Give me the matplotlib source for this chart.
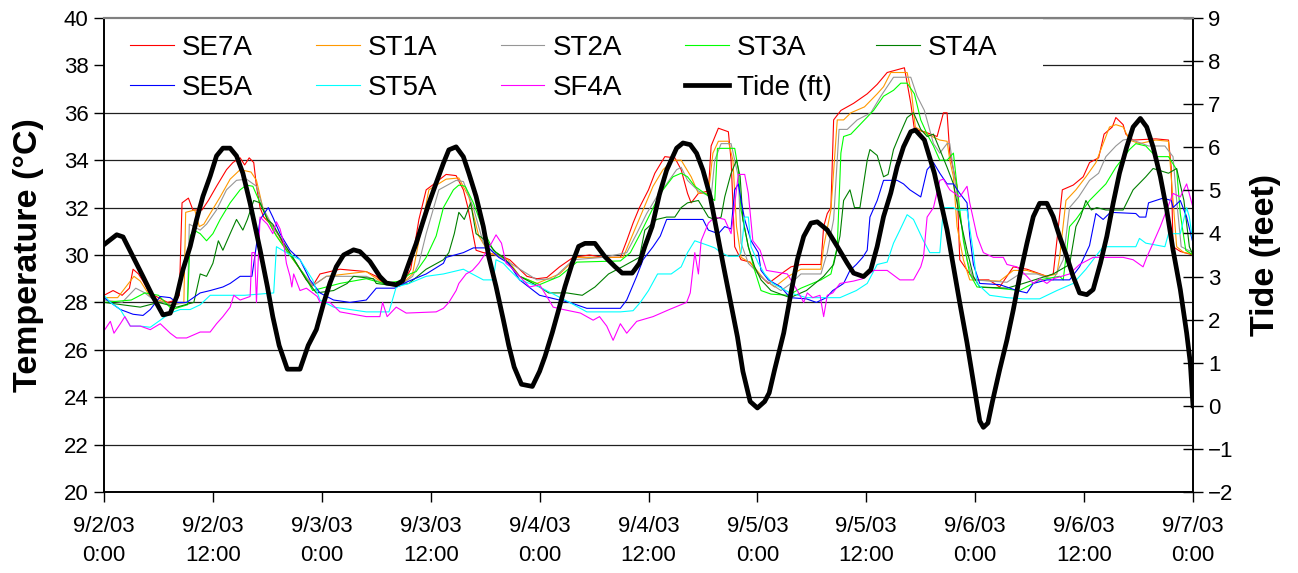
import matplotlib
matplotlib.use("Agg")
import matplotlib.pyplot as plt
from matplotlib.patches import Rectangle

plt.rcParams['font.family'] = ['Liberation Sans', 'DejaVu Sans']

# hours after 9/2/03 0:00, temperature in deg C
se7a_hr = [0, 1, 2, 2.8, 3.2, 3.8, 4.3, 5, 6, 7, 8, 8.3, 8.6, 9.3, 9.8, 10.8, 11.5, 12.4, 13.5, 14.2, 15, 15.5, 16, 16.5,
           16.8, 17.2, 17.6, 18.6, 19.3, 20.1, 21.2, 22.3, 23, 23.8, 26, 28.9, 30, 30.8, 32.6, 33.2, 33.8, 34.7, 35.5,
           36.2, 37.7, 38.8, 39.6, 40.1, 40.7, 41, 41.8, 43.5, 44.7, 46.6, 47.7, 48.8, 50.2, 51.7, 53.5, 55, 56.9, 57.6,
           58.3, 59, 60, 60.7, 61.8, 62.9, 63.6, 64.3, 64.7, 65.5, 66.6, 66.9, 67.7, 68.8, 69.1, 69.5, 70.2, 71.2, 72.1,
           73.2, 74.6, 75.7, 76.8, 79, 79.3, 79.7, 80.1, 80.4, 81.2, 82.6, 84.1, 85.2, 86.3, 88.2, 88.9, 89.3, 90.4, 91.8,
           92.5, 92.9, 93.2, 94, 94.3, 95.4, 96, 97.5, 98.7, 99.5, 100.2, 101.7, 103.9, 104.6, 105, 105.6, 106.8, 107.9,
           108.6, 109.6, 110.2, 111.1, 111.5, 112.3, 112.6, 113.4, 115.9, 117.3, 117.6, 117.8, 118.6, 120]
se7a_c = [28.3, 28.5, 28.3, 28.6, 29.4, 29.2, 28.9, 28.4, 28.2, 28.0, 28.1, 28.3, 32.2, 32.4, 31.9, 31.9, 32.3, 32.9, 33.6,
          33.9, 34.1, 33.8, 34.1, 33.9, 32.9, 32.0, 31.6, 31.2, 30.8, 30.2, 29.65, 28.95, 28.7, 29.2, 29.4, 29.3, 29.1,
          28.8, 28.7, 29.0, 29.4, 31.5, 32.75, 32.95, 33.4, 33.35, 32.75, 32.0, 30.8, 30.2, 30.1, 30.0, 29.8, 29.1, 29.0,
          29.05, 29.5, 29.9, 30.0, 29.9, 29.9, 30.6, 31.35, 32.0, 32.75, 33.45, 34.15, 34.1, 33.6, 32.6, 32.2, 32.6,
          32.7, 34.6, 35.35, 35.2, 34.0, 30.35, 29.8, 29.7, 29.2, 28.8, 29.2, 29.5, 29.6, 29.6, 31.2, 31.75, 32.0, 35.7,
          36.1, 36.4, 36.8, 37.2, 37.7, 37.9, 36.4, 35.3, 35.2, 35.0, 36.0, 36.0, 34.3, 32.9, 29.8, 29.2, 28.95, 28.95,
          28.65, 29.1, 29.5, 29.4, 29.1, 29.2, 30.6, 32.75, 32.95, 33.3, 33.9, 34.1, 35.1, 35.4, 35.8, 35.5, 35.1,
          34.85, 34.9, 34.85, 33.7, 30.35, 30.15, 30.0]

st1a_hr = [0, 1.5, 3.3, 4, 5, 6, 7.5, 8.8, 9.0, 10.0, 10.5, 11.0, 11.7, 12.8, 13.9, 15, 16.2, 16.8, 17.5, 18.6, 20.1,
           21.6, 23, 24.5, 28.9, 30.8, 32.6, 34, 34.7, 35.8, 37.7, 39.1, 40.2, 41.3, 42.4, 44.5, 45.8, 47.7, 50.2, 52.1,
           57.2, 58.3, 59.4, 60.5, 61.6, 62.7, 63.6, 64.7, 65.5, 66.6, 67.1, 67.7, 68.8, 69.3, 69.7, 70.2, 71.3, 72.8,
           73.9, 75.4, 76.8, 79, 79.3, 80.1, 80.8, 81.5, 82.3, 83.8, 85.2, 85.9, 86.7, 88.5, 89, 89.4, 90.7, 92.1, 92.9,
           93.2, 93.6, 94.0, 94.7, 95.4, 98.7, 100.2, 101.7, 103.9, 105, 105.3, 106, 107.1, 108.2, 109.3, 110.1, 110.8,
           111.5, 112.3, 113, 114.1, 115.9, 117.3, 117.8, 118.2, 119, 120]
st1a_c = [28.2, 28.2, 29.1, 28.9, 28.3, 28.1, 27.9, 28.0, 31.8, 31.9, 31.2, 31.3, 31.75, 32.45, 33.2, 33.6, 33.5, 33.15,
          32.0, 31.05, 30.2, 29.4, 28.7, 29.1, 29.3, 28.8, 28.7, 29.2, 30.6, 32.75, 33.2, 33.25, 32.45, 30.8, 30.1, 29.8,
          29.1, 28.8, 29.2, 29.9, 29.9, 30.9, 31.9, 32.9, 33.6, 34.0, 34.0, 33.3, 32.6, 32.6, 34.3, 34.8, 34.8, 34.0,
          31.2, 29.9, 29.65, 28.95, 28.65, 29.1, 29.4, 29.4, 30.35, 31.9, 35.7, 35.7, 36.0, 36.25, 36.8, 37.1, 37.7,
          37.7, 36.8, 35.4, 35.1, 34.85, 34.8, 34.0, 33.3, 31.2, 29.8, 28.95, 28.9, 29.35, 29.35, 29.1, 29.2, 29.9,
          32.3, 32.75, 33.3, 33.9, 34.7, 35.4, 35.5, 35.4, 34.85, 34.7, 34.85, 34.8, 32.3, 30.35, 30.1, 30.05]

st2a_hr = [0, 2, 3.5, 4.5, 5.5, 7.5, 9.2, 9.4, 9.9, 10.6, 11.3, 12.4, 13.5, 14.6, 15.7, 16.8, 17.5, 18.6, 20.1, 21.6, 23,
           24.5, 28.9, 30.8, 32.6, 34, 34.7, 35.5, 36.9, 38.8, 39.6, 40.7, 41.8, 42.9, 45, 47.7, 49.5, 51.7, 55, 57.6,
           58.7, 59.8, 60.9, 62, 63.1, 63.6, 64.3, 65.5, 66.9, 67.3, 68, 69.1, 69.9, 70.2, 71, 72.8, 74.6, 75.7, 76.8,
           79, 79.7, 80.4, 81, 81.9, 83, 84.5, 85.6, 86.3, 87, 88.9, 89.6, 90.4, 91.4, 92.1, 92.9, 93.2, 93.6, 94.3,
           95.1, 95.8, 99.5, 100.9, 102.8, 104.6, 105.7, 106.4, 107.4, 108.6, 109.6, 110.4, 111.5, 112.3, 113, 115.1,
           116.9, 117.8, 118.2, 118.7, 120]
st2a_c = [28.1, 28.0, 28.6, 28.4, 28.1, 27.9, 28.0, 31.3, 31.2, 31.05, 31.3, 31.9, 32.75, 33.15, 33.2, 32.9, 32.0, 31.2,
          30.35, 29.4, 28.7, 29.1, 29.1, 28.8, 28.7, 29.1, 29.65, 30.9, 32.75, 33.15, 33.1, 32.0, 30.5, 30.1, 29.6,
          28.95, 29.0, 29.8, 29.9, 30.1, 30.9, 31.75, 32.45, 33.0, 33.6, 33.7, 33.15, 32.7, 32.45, 34.0, 34.7, 34.7,
          33.3, 30.5, 29.65, 28.95, 28.5, 28.8, 29.2, 29.2, 30.1, 31.5, 35.3, 35.3, 35.7, 36.0, 36.7, 37.1, 37.5, 37.5,
          36.7, 36.1, 34.7, 34.3, 34.7, 34.7, 33.6, 31.75, 29.8, 28.95, 28.85, 29.2, 29.2, 28.95, 29.8, 32.0, 32.45,
          33.15, 33.45, 34.15, 34.6, 34.85, 34.9, 34.6, 34.6, 34.15, 32.3, 30.35, 30.1]

st3a_hr = [0, 3, 4.5, 6, 7.5, 9.2, 9.5, 9.9, 10.6, 11.3, 12, 12.8, 13.9, 15, 15.7, 16.4, 17.2, 18, 19, 20.1, 22, 23,
           24.5, 26, 28.9, 30.8, 32.6, 33.7, 34.4, 35.5, 36.6, 37.4, 38.5, 39.1, 39.8, 40.7, 41.8, 42.9, 44, 45.8, 48,
           50.2, 52.1, 56.9, 58, 59.1, 60.2, 61.3, 62.7, 63.6, 64.3, 65.1, 66.2, 67.3, 67.6, 69.5, 69.9, 70.2, 71, 71.7,
           72.4, 73.5, 75.4, 76.8, 79, 80.1, 80.8, 81.2, 81.5, 82.3, 83.8, 84.8, 85.9, 87, 87.8, 88.5, 89.3, 90, 90.7,
           91.4, 92.1, 92.9, 93.6, 94, 94.7, 95.4, 96.2, 98.5, 100.9, 103.1, 105.3, 105.7, 106.4, 107.1, 108.6, 110.4,
           111.5, 113, 113.7, 114.8, 115.9, 117.3, 118.2, 118.6, 119.2, 120]
st3a_c = [28.0, 28.1, 28.4, 28.3, 27.7, 27.9, 30.8, 31.05, 30.9, 30.6, 30.9, 31.5, 32.2, 32.75, 32.95, 32.9, 32.2, 31.5,
          30.8, 30.2, 29.2, 28.5, 28.65, 28.8, 29.0, 28.8, 28.9, 29.2, 29.3, 29.9, 30.8, 32.0, 32.75, 32.95, 32.9, 32.2,
          31.05, 30.2, 29.9, 29.1, 28.75, 29.1, 29.7, 29.75, 30.1, 30.9, 31.75, 32.6, 33.3, 33.45, 33.3, 32.9, 32.6,
          32.3, 34.5, 34.5, 33.6, 31.9, 30.35, 29.35, 28.5, 28.35, 28.3, 28.6, 28.95, 29.2, 30.35, 34.3, 35.0, 35.1,
          35.7, 36.1, 36.7, 36.95, 37.25, 37.25, 36.8, 35.7, 35.1, 34.6, 34.0, 34.0, 34.3, 32.9, 30.6, 29.2, 28.65,
          28.6, 28.5, 28.95, 29.1, 28.95, 31.2, 31.5, 32.3, 33.0, 33.7, 34.45, 34.7, 34.6, 34.15, 34.15, 33.6, 31.75,
          30.2, 30.0]

st4a_hr = [0, 2, 4, 6, 8, 9.9, 10.6, 11.3, 12, 12.6, 13.1, 13.9, 14.6, 15.3, 15.8, 16.5, 17.2, 18, 18.6, 19.8, 20.8,
           22.3, 23.4, 25.3, 26.8, 27.5, 29.7, 30, 32, 33.6, 35.5, 37.4, 38, 38.6, 39.1, 39.7, 40.4, 41, 42.1, 43.2, 44,
           45.8, 48, 49, 51, 52.7, 54.1, 55.6, 57.1, 59, 59.6, 60.9, 62, 62.9, 63.6, 64.3, 65.5, 66.6, 67.3, 68, 68.4,
           69.1, 69.7, 70.1, 70.4, 71, 71.7, 72.4, 73.5, 75.6, 77.4, 79.3, 80.4, 81.1, 81.5, 82.2, 82.7, 83.3, 84.1,
           84.4, 85.2, 85.9, 86.4, 87, 87.7, 88.5, 89.2, 90, 90.7, 91.4, 92.1, 92.9, 93.6, 94.3, 95.1, 95.8, 96.5, 99.5,
           101.3, 104.6, 106.4, 107.1, 107.6, 108.2, 108.8, 109.4, 110.4, 112.3, 113.4, 114.8, 115.6, 117.3, 118.2,
           119, 119.6, 120]
st4a_c = [28.0, 27.9, 27.8, 28.0, 27.8, 28.0, 29.2, 29.1, 29.65, 30.6, 30.2, 30.9, 31.5, 31.05, 31.5, 32.3, 32.2, 31.5,
          31.3, 30.5, 29.9, 28.95, 28.4, 28.5, 28.8, 29.1, 29.0, 28.8, 28.7, 28.8, 29.4, 29.8, 30.1, 30.9, 31.8, 31.5,
          32.2, 30.9, 30.6, 30.1, 29.9, 29.1, 28.65, 28.4, 28.4, 28.3, 28.65, 29.2, 29.5, 29.9, 31.05, 31.5, 31.6, 31.6,
          32.0, 32.2, 32.3, 31.6, 31.5, 31.6, 32.45, 33.45, 34.0, 33.3, 31.5, 30.35, 29.5, 28.95, 28.5, 28.2, 28.5,
          29.1, 29.6, 30.8, 32.3, 32.75, 32.0, 32.0, 34.0, 34.45, 34.2, 33.3, 33.4, 34.45, 35.1, 35.8, 36.0, 35.3, 35.0,
          35.1, 34.45, 33.7, 33.0, 31.6, 30.2, 29.1, 28.65, 28.6, 28.8, 29.2, 29.6, 31.2, 31.6, 32.3, 31.9, 32.0, 31.9,
          31.9, 32.75, 33.3, 33.65, 33.45, 33.65, 32.3, 30.35, 30.0]

se5a_hr = [0, 0.7, 1.8, 3.2, 4.3, 5.1, 6.2, 7.3, 8, 9.1, 10.6, 11.7, 13.1, 13.9, 15, 16.3, 17.2, 18.1, 18.6, 19.4, 20.5,
           21.6, 22.7, 23.8, 25.3, 27.1, 28.9, 30, 32, 33.6, 35.5, 37.4, 37.7, 39.6, 40.7, 42.4, 43.5, 44.6, 45.8, 48,
           51.3, 53.2, 56.9, 57.6, 58.7, 59.4, 60.5, 61.3, 62, 63.1, 66, 66.6, 67.7, 68.4, 69.1, 69.5, 69.9, 70.2, 70.6,
           71.3, 72.1, 72.4, 73.2, 74.6, 75.6, 77.4, 78.5, 79.6, 80.3, 81.5, 82.2, 82.9, 83.6, 84.1, 84.4, 85.2, 85.9,
           87.4, 88.1, 88.8, 90, 90.7, 91.4, 92.1, 92.9, 93.6, 94.3, 95.1, 95.4, 95.8, 96.5, 98.7, 100.6, 101.7, 102.4,
           103.9, 106.4, 107.5, 108.6, 109.3, 110.1, 110.9, 113.7, 114.1, 114.8, 115.1, 116.7, 117.6, 117.8, 118.6,
           119.3, 120]
se5a_c = [28.2, 28.0, 27.7, 27.5, 27.45, 27.7, 28.25, 28.2, 28.0, 28.0, 28.4, 28.5, 28.65, 28.8, 29.1, 29.1, 31.5, 32.0,
          31.6, 30.9, 30.2, 29.8, 28.95, 28.4, 28.1, 28.0, 28.1, 28.6, 28.6, 28.9, 29.2, 29.65, 29.9, 30.1, 30.3, 30.3,
          29.9, 29.65, 28.95, 28.3, 28.0, 27.75, 27.75, 28.1, 29.1, 29.8, 30.35, 30.8, 31.5, 31.5, 31.5, 31.05, 30.9,
          31.2, 31.1, 32.75, 33.0, 32.3, 31.5, 30.6, 30.1, 29.35, 28.95, 28.65, 28.2, 28.15, 28.0, 28.2, 28.5, 28.8,
          29.35, 29.6, 29.9, 30.2, 31.6, 32.3, 33.15, 33.15, 33.0, 32.75, 32.45, 33.6, 33.9, 33.45, 33.0, 33.0, 32.6,
          32.2, 30.8, 29.6, 28.8, 28.75, 28.5, 28.4, 28.8, 28.95, 28.95, 29.5, 30.4, 31.75, 31.5, 31.8, 31.75, 31.6,
          31.6, 32.2, 32.4, 32.3, 32.0, 32.3, 31.6, 30.5]

st5a_hr = [0, 0.7, 1.8, 2.9, 4, 5.1, 6.2, 7.3, 8.4, 9.5, 10.6, 11.7, 15.5, 18.7, 19.0, 20.1, 21.6, 23, 23.8, 25.3, 28.9,
           31.4, 32.2, 33.6, 35.5, 37.4, 39.6, 41.8, 42.9, 43.2, 44, 44.6, 45.8, 48, 51.3, 53.2, 56.9, 58.3, 59.1, 60,
           61, 62.5, 63.6, 64.3, 65.1, 66.6, 67.3, 68, 68.8, 69.9, 70.2, 70.6, 71.0, 71.3, 72.1, 72.8, 73.7, 75.6, 77.4,
           81.1, 82.9, 84.1, 85.2, 86.3, 87, 87.7, 88.5, 89.2, 90.3, 91, 92.1, 92.5, 93.6, 94, 95.1, 95.8, 96.2, 97.6,
           99.5, 101.3, 103.1, 105, 106.8, 108.2, 109, 110.1, 113.7, 114.1, 114.8, 116.9, 117.3, 118.6, 119.3, 119.6,
           120]
st5a_c = [28.3, 28.0, 27.7, 27.0, 27.0, 26.95, 27.25, 27.55, 27.7, 27.7, 27.9, 28.3, 28.3, 28.4, 30.35, 30.1, 29.8,
          28.95, 28.1, 27.8, 27.6, 27.6, 28.65, 28.8, 29.1, 29.2, 29.4, 28.95, 28.95, 29.8, 29.65, 29.4, 28.95, 28.65,
          28.0, 27.6, 27.6, 27.65, 28.0, 28.5, 29.2, 29.2, 29.5, 30.1, 30.6, 30.4, 30.3, 30.1, 29.95, 29.95, 30.1, 31.6,
          31.6, 30.35, 29.65, 29.2, 28.8, 28.4, 28.2, 28.2, 28.5, 28.8, 29.6, 29.7, 30.5, 31.05, 31.7, 31.5, 30.6, 30.1,
          30.1, 32.0, 32.0, 31.9, 31.9, 30.1, 28.8, 28.3, 28.2, 28.15, 28.15, 28.5, 28.8, 29.4, 29.8, 30.35, 30.35,
          30.7, 30.5, 30.35, 30.9, 30.9, 32.0, 31.6, 30.5]

sf4a_hr = [0, 0.7, 1.1, 1.8, 2.3, 2.9, 4, 5.1, 6.2, 7.3, 8, 9.1, 10.6, 11.7, 12.4, 13.1, 13.9, 14.3, 15, 16.1, 16.3,
           16.6, 16.8, 17.2, 18, 18.6, 19, 19.4, 19.8, 20.1, 20.5, 20.7, 20.9, 21.6, 22.3, 23.5, 23.8, 24.9, 26, 28.9,
           30.4, 30.7, 31.2, 32.2, 33.3, 36.6, 37.4, 38, 38.8, 39.1, 39.9, 40.6, 41.3, 42.1, 42.7, 43.2, 43.8, 44.3,
           44.8, 45.8, 46.9, 48, 49.5, 50.6, 52.5, 53.9, 54.6, 55.4, 56.1, 56.9, 57.6, 58.7, 60.5, 62.3, 64.2, 64.6,
           65.1, 65.5, 65.8, 66.6, 67.3, 68.4, 69.1, 69.9, 70.6, 71.0, 71.5, 72.3, 73, 75.3, 76.4, 77.1, 77.5, 78.1,
           78.9, 79.3, 79.7, 80.3, 81.1, 82.6, 83.6, 84.8, 86.3, 87.7, 89.2, 90, 90.3, 90.7, 91.4, 92.1, 92.5, 93.2,
           94.3, 95.1, 95.4, 96.2, 96.9, 98, 99.1, 99.5, 100.6, 101.7, 102.4, 103.1, 103.9, 104.6, 106.4, 107.5, 109,
           112.3, 113.4, 114.5, 114.9, 115.6, 116.4, 117.1, 117.8, 118.6, 119.3, 120]
sf4a_c = [26.8, 27.2, 26.7, 27.1, 27.4, 27.0, 27.0, 26.85, 27.1, 26.7, 26.5, 26.5, 26.75, 26.75, 27.1, 27.4, 27.8, 28.3,
          28.1, 28.25, 30.1, 30.1, 28.0, 31.6, 31.3, 30.9, 31.4, 31.1, 30.5, 29.65, 29.1, 28.65, 29.2, 28.5, 28.6, 28.25,
          28.0, 28.0, 27.6, 27.4, 27.4, 28.0, 27.4, 27.8, 27.55, 27.6, 27.75, 28.0, 28.5, 28.8, 29.2, 29.35, 29.65, 30.1,
          30.5, 30.85, 30.5, 29.65, 29.5, 29.1, 28.65, 28.75, 27.8, 27.7, 27.55, 27.25, 27.4, 27.0, 26.4, 27.1, 26.7,
          27.2, 27.4, 27.7, 28.0, 28.4, 30.1, 29.2, 30.6, 31.35, 31.6, 31.5, 30.9, 33.4, 33.4, 32.6, 30.6, 30.2, 29.35,
          29.2, 28.5, 28.0, 28.4, 28.2, 28.3, 27.4, 28.3, 28.4, 28.8, 28.9, 29.0, 29.35, 29.35, 28.95, 28.95, 29.5,
          29.9, 31.6, 32.0, 33.15, 33.2, 32.75, 32.45, 32.9, 32.2, 30.8, 30.1, 29.9, 29.9, 29.6, 29.5, 29.1, 28.8,
          29.0, 28.8, 29.0, 29.2, 29.6, 29.9, 29.9, 29.8, 29.5, 29.9, 30.5, 31.2, 31.9, 32.6, 32.45, 33.0, 32.0]

# tide height in feet, same time base
tide_hr = [0, 1.4, 2.1, 3.2, 4.3, 5.4, 6.5, 7.3, 8.0, 8.7, 9.5, 10.2, 10.9, 11.7, 12.4, 13.1, 13.9, 14.6, 15.3, 16.1,
           17.2, 18.0, 18.6, 19.3, 20.2, 21.6, 22.5, 23.4, 24.2, 24.9, 25.6, 26.4, 27.5, 28.2, 29.3, 30.4, 31.1, 32.2,
           32.9, 33.6, 34.4, 35.1, 35.8, 36.6, 37.4, 38.0, 38.8, 39.6, 40.2, 41.0, 41.8, 42.4, 43.2, 44.0, 44.6, 45.2,
           46.0, 47.2, 48.0, 48.6, 49.4, 50.1, 50.8, 51.6, 52.3, 53.0, 54.1, 55.2, 56.3, 57.1, 58.2, 59.0, 59.6, 60.4,
           61.2, 62.0, 63.1, 63.8, 64.6, 65.3, 66.0, 66.8, 67.5, 68.2, 69.0, 69.8, 70.4, 71.2, 72.0, 72.8, 73.3, 73.9,
           74.9, 75.7, 76.4, 77.1, 77.9, 78.6, 79.7, 80.8, 81.9, 82.6, 83.7, 84.5, 85.2, 85.9, 86.7, 87.4, 88.1, 88.9,
           89.4, 90.4, 91.5, 92.9, 93.6, 94.3, 95.1, 96.0, 96.5, 96.9, 97.4, 97.9, 98.7, 99.5, 100.2, 100.9, 101.7,
           102.4, 103.1, 103.9, 104.6, 105.3, 106.1, 106.8, 107.5, 108.3, 109.0, 109.8, 110.5, 111.2, 111.9, 112.7,
           113.4, 114.2, 114.9, 115.6, 116.4, 117.1, 117.8, 118.6, 119.3, 119.7, 120]
tide_ft = [3.74, 3.97, 3.92, 3.46, 3.0, 2.53, 2.11, 2.15, 2.53, 3.16, 3.7, 4.32, 4.86, 5.33, 5.8, 5.98, 5.98, 5.8, 5.4,
           4.7, 3.62, 2.77, 2.07, 1.4, 0.85, 0.85, 1.4, 1.77, 2.38, 2.85, 3.23, 3.5, 3.62, 3.58, 3.35, 3.0, 2.85, 2.81,
           2.9, 3.31, 3.77, 4.24, 4.7, 5.17, 5.63, 5.94, 6.01, 5.78, 5.4, 4.86, 4.16, 3.46, 2.77, 2.0, 1.4, 0.9, 0.5,
           0.45, 0.8, 1.15, 1.7, 2.23, 2.77, 3.31, 3.7, 3.77, 3.77, 3.46, 3.23, 3.08, 3.08, 3.31, 3.7, 4.16, 4.9, 5.47,
           5.98, 6.1, 6.06, 5.86, 5.47, 4.86, 4.08, 3.31, 2.46, 1.6, 0.8, 0.1, -0.05, 0.1, 0.3, 0.84, 1.69, 2.62, 3.39,
           3.93, 4.24, 4.27, 4.08, 3.7, 3.31, 3.08, 3.0, 3.16, 3.7, 4.39, 4.94, 5.55, 6.01, 6.36, 6.4, 6.17, 5.4, 4.08,
           3.23, 2.39, 1.46, 0.3, -0.35, -0.5, -0.4, 0.1, 0.84, 1.53, 2.23, 3.0, 3.77, 4.39, 4.7, 4.7, 4.39, 3.93, 3.46,
           3.0, 2.62, 2.58, 2.7, 3.31, 3.93, 4.7, 5.4, 6.01, 6.47, 6.67, 6.47, 6.01, 5.32, 4.55, 3.62, 2.7, 1.69, 1.0,
           0.0]

tick_hours = [0, 12, 24, 36, 48, 60, 72, 84, 96, 108, 120]
tick_labels = ["9/2/03\n0:00", "9/2/03\n12:00", "9/3/03\n0:00", "9/3/03\n12:00", "9/4/03\n0:00", "9/4/03\n12:00",
               "9/5/03\n0:00", "9/5/03\n12:00", "9/6/03\n0:00", "9/6/03\n12:00", "9/7/03\n0:00"]

series = [
    ("SE7A", se7a_hr, se7a_c, "#ff0000"),
    ("ST1A", st1a_hr, st1a_c, "#ff9900"),
    ("ST2A", st2a_hr, st2a_c, "#969696"),
    ("ST3A", st3a_hr, st3a_c, "#00ff00"),
    ("ST4A", st4a_hr, st4a_c, "#008000"),
    ("SE5A", se5a_hr, se5a_c, "#0000ff"),
    ("ST5A", st5a_hr, st5a_c, "#00ffff"),
    ("SF4A", sf4a_hr, sf4a_c, "#ff00ff"),
]

fig = plt.figure(figsize=(12.98, 5.73), dpi=100)
ax = fig.add_axes([104 / 1298, 81 / 573, 1089 / 1298, 474 / 573])

lines = {}
for name, hr, val, col in series:
    lines[name], = ax.plot(hr, val, color=col, lw=0.8, label=name)

ax.set_xlim(0, 120)
ax.set_ylim(20, 40)
ax.set_yticks(range(20, 41, 2))
ax.set_xticks(tick_hours)
ax.set_xticklabels(tick_labels, linespacing=1.55)
ax.yaxis.grid(True, color="#202020", lw=0.9)
ax.set_axisbelow(True)
ax.tick_params(axis="y", direction="out", length=7, width=1, labelsize=16, pad=4)
ax.tick_params(axis="x", direction="out", length=7, width=1, labelsize=16, pad=10)
ax.set_ylabel("Temperature (°C)", fontsize=24.5, fontweight="bold")
ax.yaxis.set_label_coords(-0.055, 0.5)

ax2 = ax.twinx()
tide_line, = ax2.plot(tide_hr, tide_ft, color="black", lw=3.4, label="Tide (ft)")
ax2.set_ylim(-2, 9)
ax2.set_yticks(range(-2, 10))
ax2.tick_params(axis="y", direction="inout", length=14, width=1, labelsize=16, pad=4)
ax2.set_ylabel("Tide (feet)", fontsize=24.5, fontweight="bold")
ax2.yaxis.set_label_coords(1.052, 0.5)

for a in (ax, ax2):
    for side in ("left", "right", "bottom"):
        a.spines[side].set_color("black")
        a.spines[side].set_linewidth(1.2)
    a.spines["top"].set_color("#808080")
    a.spines["top"].set_linewidth(1.5)

# white legend area: sits over the gridlines but under the data lines
ax.add_patch(Rectangle((0, 0.8186), 0.862, 0.1814, transform=ax.transAxes,
                       facecolor="white", edgecolor="none", zorder=1.5))

leg_kw = dict(loc="upper left", borderaxespad=0, frameon=False, fontsize=20, handlelength=1.58,
              handletextpad=0.29, labelspacing=0.49, borderpad=0, columnspacing=2.27)

# first four columns, filled row by row (matplotlib fills columns, so reorder)
order = ["SE7A", "SE5A", "ST1A", "ST5A", "ST2A", "SF4A", "ST3A", "Tide (ft)"]
handles = [tide_line if n == "Tide (ft)" else lines[n] for n in order]
leg = ax.legend(handles, order, ncol=4, bbox_to_anchor=(26 / 1089, 0.964), **leg_kw)
ax.add_artist(leg)
# fifth column
ax.legend([lines["ST4A"]], ["ST4A"], ncol=1, bbox_to_anchor=(772 / 1089, 0.964), **leg_kw)

fig.savefig("out.png", dpi=100)
